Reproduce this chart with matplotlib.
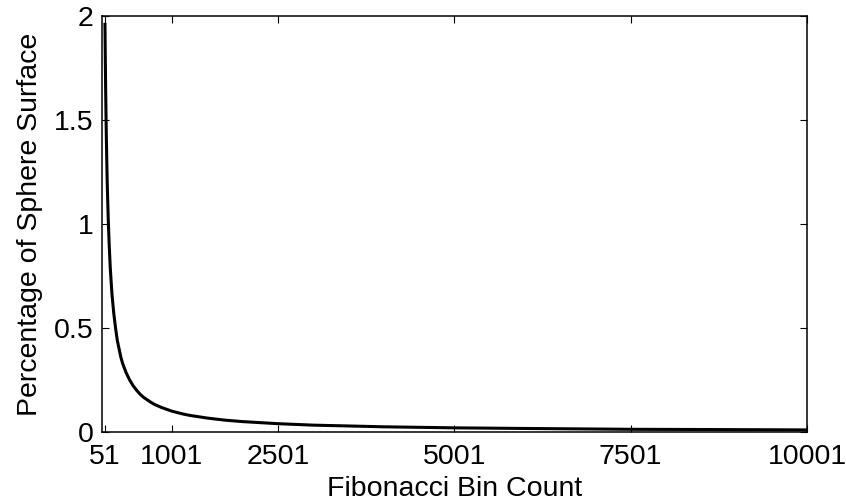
import matplotlib
matplotlib.use("Agg")
import matplotlib.pyplot as plt

bin_count = [51, 56, 61, 66, 71, 76, 81, 86, 91, 96, 101, 111, 126, 141, 151, 176, 201,
             226, 251, 276, 301, 351, 401, 451, 501, 551, 601, 701, 751, 851, 1001,
             1151, 1251, 1501, 1751, 2001, 2501, 3001, 3501, 4001, 5001, 6001, 7501,
             8501, 10001]
percentage = [1.96, 1.79, 1.64, 1.52, 1.41, 1.32, 1.23, 1.16, 1.10, 1.04, 0.99, 0.90,
              0.79, 0.71, 0.66, 0.57, 0.50, 0.44, 0.40, 0.36, 0.33, 0.285, 0.25, 0.222,
              0.20, 0.181, 0.166, 0.143, 0.133, 0.118, 0.10, 0.087, 0.08, 0.067, 0.057,
              0.05, 0.04, 0.033, 0.029, 0.025, 0.02, 0.017, 0.013, 0.012, 0.01]
x_ticks = [51, 1001, 2501, 5001, 7501, 10001]
y_ticks = [0, 0.5, 1, 1.5, 2]
y_tick_labels = ["0", "0.5", "1", "1.5", "2"]

plt.rcParams['font.family'] = ['Liberation Sans', 'DejaVu Sans']

fig = plt.figure(figsize=(8.46, 5.04), dpi=100)
ax = fig.add_axes([102/846, 72/504, (807-102)/846, (432-16)/504])
ax.plot(bin_count, percentage, color='black', linewidth=2.2, solid_joinstyle='round')
ax.set_xlim(9, 10001)
ax.set_ylim(0, 2)
ax.set_xticks(x_ticks)
ax.set_xticklabels([str(t) for t in x_ticks])
ax.set_yticks(y_ticks)
ax.set_yticklabels(y_tick_labels)
ax.tick_params(direction='in', top=True, right=True, length=5, width=0.8,
               labelsize=20.5)
ax.tick_params(axis='x', pad=9)
ax.tick_params(axis='y', pad=6)
for s in ax.spines.values():
    s.set_linewidth(1.1)
ax.set_xlabel("Fibonacci Bin Count", fontsize=20.5, labelpad=4)
ax.set_ylabel("Percentage of Sphere Surface", fontsize=20.5, labelpad=8)
fig.savefig("out.png", dpi=100)
